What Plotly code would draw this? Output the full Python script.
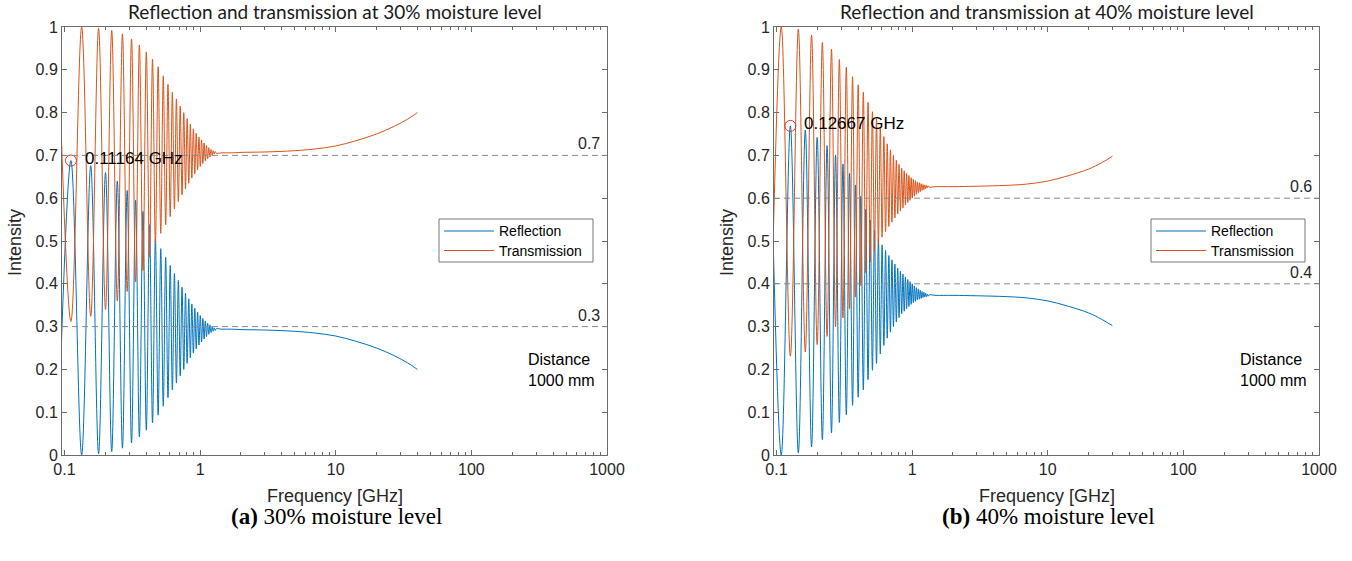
import math
import plotly.graph_objects as go

W, H = 1352, 561

# ---------------- 30 % moisture level ----------------
# fringe extrema (reflection trough / peak alternating) followed by the smooth tail
freq_30 = [0.0893, 0.11164, 0.1339, 0.1562, 0.1785, 0.2008, 0.2231, 0.2454, 0.2677, 0.2900,
           0.3123, 0.3346, 0.3569, 0.3792, 0.4015, 0.4238, 0.4461, 0.4684, 0.4907, 0.5130,
           0.5353, 0.5576, 0.5799, 0.6022, 0.6245, 0.6468, 0.6691, 0.6914, 0.7137, 0.7360,
           0.7583, 0.7806, 0.8029, 0.8252, 0.8475, 0.8698, 0.8921, 0.9144, 0.9367, 0.9590,
           0.9813, 1.0036, 1.0259, 1.0482, 1.0705, 1.0928, 1.1151, 1.1374, 1.1597, 1.1820,
           1.2043, 1.2266, 1.2489, 1.2712, 1.2935, 1.3158,
           1.45, 1.7, 2.0, 3.0, 5.0, 7.0, 10.0, 14.0, 20.0, 27.0, 34.0, 40.0]
refl_30 = [0.000, 0.688, 0.000, 0.676, 0.003, 0.660, 0.008, 0.640, 0.016, 0.618,
           0.028, 0.595, 0.042, 0.569, 0.058, 0.538, 0.075, 0.505, 0.093, 0.482,
           0.114, 0.462, 0.134, 0.443, 0.152, 0.425, 0.168, 0.408, 0.185, 0.392,
           0.200, 0.378, 0.214, 0.365, 0.227, 0.353, 0.238, 0.343, 0.248, 0.334,
           0.257, 0.326, 0.264, 0.319, 0.271, 0.313, 0.277, 0.308, 0.282, 0.304,
           0.286, 0.300, 0.289, 0.297, 0.291, 0.295,
           0.294, 0.294, 0.293, 0.292, 0.289, 0.285, 0.278, 0.266, 0.250, 0.232, 0.215, 0.200]
trans_30 = [1.000, 0.312, 1.000, 0.324, 0.997, 0.340, 0.992, 0.360, 0.984, 0.382,
            0.972, 0.405, 0.958, 0.431, 0.942, 0.462, 0.925, 0.495, 0.907, 0.518,
            0.886, 0.538, 0.866, 0.557, 0.848, 0.575, 0.832, 0.592, 0.815, 0.608,
            0.800, 0.622, 0.786, 0.635, 0.773, 0.647, 0.762, 0.657, 0.752, 0.666,
            0.743, 0.674, 0.736, 0.681, 0.729, 0.687, 0.723, 0.692, 0.718, 0.696,
            0.714, 0.700, 0.711, 0.703, 0.709, 0.705,
            0.706, 0.706, 0.707, 0.708, 0.711, 0.715, 0.722, 0.734, 0.750, 0.768, 0.785, 0.800]
peak_freq_30, peak_refl_30 = 0.11164, 0.688
levels_30 = [0.7, 0.3]

# ---------------- 40 % moisture level ----------------
freq_40 = [0.0902, 0.1085, 0.12667, 0.1450, 0.1632, 0.1815, 0.1997, 0.2180, 0.2362, 0.2545,
           0.2727, 0.2910, 0.3092, 0.3275, 0.3457, 0.3640, 0.3822, 0.4005, 0.4187, 0.4370,
           0.4552, 0.4735, 0.4917, 0.5100, 0.5282, 0.5465, 0.5647, 0.5830, 0.6012, 0.6195,
           0.6377, 0.6560, 0.6742, 0.6925, 0.7107, 0.7290, 0.7472, 0.7655, 0.7837, 0.8020,
           0.8202, 0.8385, 0.8567, 0.8750, 0.8932, 0.9115, 0.9297, 0.9480, 0.9662, 0.9845,
           1.0027, 1.0210, 1.0392, 1.0575, 1.0757, 1.0940, 1.1122, 1.1305, 1.1487, 1.1670,
           1.1852, 1.2035, 1.2217, 1.2400, 1.2582, 1.2765, 1.2947, 1.3130, 1.3312,
           1.5, 2.0, 3.0, 5.0, 7.0, 10.0, 14.0, 20.0, 25.0, 30.0]
refl_40 = [0.775, 0.000, 0.769, 0.005, 0.759, 0.019, 0.742, 0.036, 0.723, 0.052,
           0.701, 0.076, 0.680, 0.094, 0.658, 0.116, 0.631, 0.135, 0.604, 0.152,
           0.574, 0.176, 0.549, 0.198, 0.525, 0.214, 0.506, 0.236, 0.491, 0.256,
           0.478, 0.273, 0.466, 0.287, 0.456, 0.300, 0.446, 0.311, 0.437, 0.321,
           0.430, 0.330, 0.423, 0.336, 0.416, 0.342, 0.410, 0.347, 0.405, 0.352,
           0.400, 0.356, 0.395, 0.359, 0.391, 0.362, 0.388, 0.364, 0.385, 0.366,
           0.382, 0.368, 0.380, 0.369, 0.378, 0.370, 0.376, 0.371, 0.374,
           0.373, 0.373, 0.372, 0.370, 0.367, 0.360, 0.348, 0.332, 0.317, 0.302]
trans_40 = [0.225, 1.000, 0.231, 0.995, 0.241, 0.981, 0.258, 0.964, 0.277, 0.948,
            0.299, 0.924, 0.320, 0.906, 0.342, 0.884, 0.369, 0.865, 0.396, 0.848,
            0.426, 0.824, 0.451, 0.802, 0.475, 0.786, 0.494, 0.764, 0.509, 0.744,
            0.522, 0.727, 0.534, 0.713, 0.544, 0.700, 0.554, 0.689, 0.563, 0.679,
            0.570, 0.670, 0.577, 0.664, 0.584, 0.658, 0.590, 0.653, 0.595, 0.648,
            0.600, 0.644, 0.605, 0.641, 0.609, 0.638, 0.612, 0.636, 0.615, 0.634,
            0.618, 0.632, 0.620, 0.631, 0.622, 0.630, 0.624, 0.629, 0.626,
            0.627, 0.627, 0.628, 0.630, 0.633, 0.640, 0.652, 0.668, 0.683, 0.698]
peak_freq_40, peak_refl_40 = 0.12667, 0.769
levels_40 = [0.6, 0.4]

x_ticks = [0.1, 1, 10, 100, 1000]
x_tick_text = ["0.1", "1", "10", "100", "1000"]
x_minor = [m * d for d in (0.1, 1, 10, 100) for m in range(2, 10)]
y_ticks = [i / 10 for i in range(11)]
y_tick_text = ["0"] + [f"{v:.1f}" for v in y_ticks[1:-1]] + ["1"]

BLUE = "#0072BD"
ORANGE = "#D95319"
MARK = "#E3342F"
AXIS = "#6b6b6b"
TXT = "#262626"
SANS = "Liberation Sans, Arial, sans-serif"


def px(x):
    return x / W


def py(y):
    return 1 - y / H


# plot boxes in pixels: (left, right), shared top/bottom
boxes = [(62, 607), (774, 1319)]
TOP, BOTTOM = 27, 455

panels = [
    dict(freq=freq_30, refl=refl_30, trans=trans_30, pf=peak_freq_30, pr=peak_refl_30,
         levels=levels_30, pct="30%", tag="(a)", xa="x", ya="y"),
    dict(freq=freq_40, refl=refl_40, trans=trans_40, pf=peak_freq_40, pr=peak_refl_40,
         levels=levels_40, pct="40%", tag="(b)", xa="x2", ya="y2"),
]

fig = go.Figure()
annotations = []
shapes = []

for p, (left, right) in zip(panels, boxes):
    fig.add_trace(go.Scatter(x=p["freq"], y=p["refl"], mode="lines", name="Reflection",
                             line=dict(color=BLUE, width=1, shape="spline", smoothing=1),
                             xaxis=p["xa"], yaxis=p["ya"], showlegend=False))
    fig.add_trace(go.Scatter(x=p["freq"], y=p["trans"], mode="lines", name="Transmission",
                             line=dict(color=ORANGE, width=1, shape="spline", smoothing=1),
                             xaxis=p["xa"], yaxis=p["ya"], showlegend=False))
    # first reflection maximum, marked with an open circle
    fig.add_trace(go.Scatter(x=[p["pf"]], y=[p["pr"]], mode="markers",
                             marker=dict(symbol="circle-open", size=11, color=MARK,
                                         line=dict(color=MARK, width=1)),
                             xaxis=p["xa"], yaxis=p["ya"], showlegend=False))
    annotations.append(dict(x=math.log10(p["pf"]), y=p["pr"], xref=p["xa"], yref=p["ya"],
                            text=f"{p['pf']} GHz", showarrow=False, xanchor="left",
                            yanchor="middle", xshift=12, yshift=2,
                            font=dict(family=SANS, size=17, color="#000000")))

    # reference levels
    for lv in p["levels"]:
        shapes.append(dict(type="line", xref=f"{p['xa']} domain", yref=p["ya"], x0=0, x1=1,
                           y0=lv, y1=lv, line=dict(color="#8a8a8a", width=1, dash="6px,4px")))
        annotations.append(dict(x=1, y=lv, xref=f"{p['xa']} domain", yref=p["ya"],
                                text=f"{lv}", showarrow=False, xanchor="right", yanchor="bottom",
                                xshift=-5, yshift=1, font=dict(family=SANS, size=16, color=TXT)))

    cx = (left + right) / 2
    annotations.append(dict(x=px(cx), y=py(11), xref="paper", yref="paper",
                            text=f"Reflection and transmission at {p['pct']} moisture level",
                            showarrow=False, xanchor="center", yanchor="middle",
                            font=dict(family="Lato, Open Sans, sans-serif", size=19, color="#1a1a1a")))
    annotations.append(dict(x=px(cx), y=py(496), xref="paper", yref="paper",
                            text="Frequency [GHz]", showarrow=False, xanchor="center",
                            yanchor="middle", font=dict(family=SANS, size=18, color=TXT)))
    annotations.append(dict(x=px(left - 47), y=py((TOP + BOTTOM) / 2 + 2), xref="paper",
                            yref="paper", text="Intensity", showarrow=False, textangle=-90,
                            xanchor="center", yanchor="middle",
                            font=dict(family=SANS, size=18, color=TXT)))
    annotations.append(dict(x=px(cx + 2), y=py(516), xref="paper", yref="paper",
                            text=f"<b>{p['tag']}</b> {p['pct']} moisture level",
                            showarrow=False, xanchor="center", yanchor="middle",
                            font=dict(family="Liberation Serif, serif", size=23, color="#000000")))
    annotations.append(dict(x=px(right - 81), y=py(370), xref="paper", yref="paper",
                            text="Distance<br>1000 mm", showarrow=False, xanchor="left",
                            yanchor="middle", align="left",
                            font=dict(family=SANS, size=16, color="#000000")))

    # legend box
    lx0, lx1, ly0, ly1 = right - 168, right - 14, 219, 262
    shapes.append(dict(type="rect", xref="paper", yref="paper", x0=px(lx0), x1=px(lx1),
                       y0=py(ly1), y1=py(ly0), line=dict(color="#777777", width=1),
                       fillcolor="white", layer="above"))
    for row, (label, col) in enumerate([("Reflection", BLUE), ("Transmission", ORANGE)]):
        yy = 231 + row * 19.5
        shapes.append(dict(type="line", xref="paper", yref="paper", x0=px(lx0 + 5),
                           x1=px(lx0 + 55), y0=py(yy), y1=py(yy),
                           line=dict(color=col, width=1), layer="above"))
        annotations.append(dict(x=px(lx0 + 58), y=py(yy), xref="paper", yref="paper",
                                text=label, showarrow=False, xanchor="left", yanchor="middle",
                                font=dict(family=SANS, size=14, color="#000000")))

axis_common = dict(showline=True, linecolor=AXIS, linewidth=1, mirror="ticks",
                   ticks="inside", ticklen=5, tickcolor=AXIS, showgrid=False,
                   zeroline=False, automargin=False,
                   tickfont=dict(family=SANS, size=16, color=TXT))

layout_axes = {}
for i, (left, right) in enumerate(boxes):
    sfx = "" if i == 0 else "2"
    layout_axes[f"xaxis{sfx}"] = dict(
        axis_common, type="log", range=[-1.018, 3], domain=[px(left), px(right)],
        tickmode="array", tickvals=x_ticks, ticktext=x_tick_text,
        minor=dict(ticks="inside", ticklen=3, tickcolor=AXIS, tickvals=x_minor, showgrid=False),
        anchor=f"y{sfx}")
    layout_axes[f"yaxis{sfx}"] = dict(
        axis_common, range=[0, 1], domain=[py(BOTTOM), py(TOP)],
        tickmode="array", tickvals=y_ticks, ticktext=y_tick_text,
        anchor=f"x{sfx}")

fig.update_layout(
    width=W, height=H, margin=dict(l=0, r=0, t=0, b=0),
    paper_bgcolor="white", plot_bgcolor="white",
    showlegend=False, shapes=shapes, annotations=annotations,
    **layout_axes,
)

fig.write_html("out.html")
